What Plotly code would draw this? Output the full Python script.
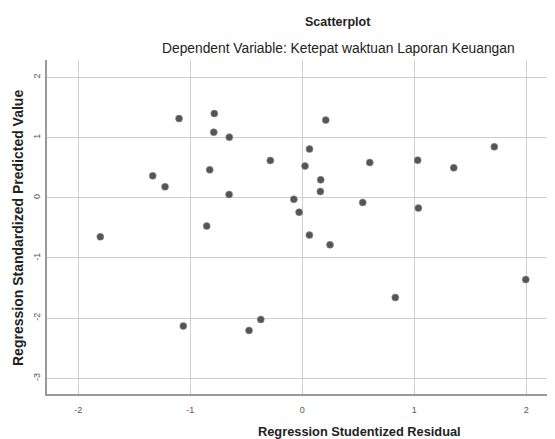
import plotly.graph_objects as go

# Regression Studentized Residual (x) vs Regression Standardized Predicted Value (y)
residual = [-1.804, -1.101, -0.786, -0.791, -0.652, -0.286, -0.827, -1.336, -1.226, -0.654,
            -0.076, -0.029, 0.064, 0.024, -0.854, 0.063, 0.209, 0.164, 0.161, 0.602,
            0.539, 1.030, 1.036, 1.352, 1.714, 0.247, 1.995, 0.830, -1.063, -0.476, -0.371]
predicted = [-0.648, 1.317, 1.400, 1.091, 1.008, 0.620, 0.465, 0.365, 0.183, 0.055,
             -0.025, -0.238, 0.811, 0.528, -0.470, -0.620, 1.291, 0.299, 0.105, 0.586,
             -0.078, 0.626, -0.171, 0.498, 0.847, -0.781, -1.359, -1.656, -2.131, -2.204, -2.022]

x_ticks = [-2, -1, 0, 1, 2]
y_ticks = [2, 1, 0, -1, -2, -3]

title = "Scatterplot"
subtitle = "Dependent Variable: Ketepat waktuan Laporan Keuangan"
x_title = "Regression Studentized Residual"
y_title = "Regression Standardized Predicted Value"

FONT = "Liberation Sans, Arial, sans-serif"

fig = go.Figure()
fig.add_trace(go.Scatter(
    x=residual, y=predicted, mode="markers",
    marker=dict(size=7, color="#555555", line=dict(width=0.6, color="#8a8a8a")),
    hoverinfo="x+y", showlegend=False,
))

# page has an 8px body margin; figure drawn at offset (8, 8)
OFF = 8
W, H = 555 - OFF, 439 - OFF
L, R, T, B = 47 - OFF, 0, 60 - OFF, H - (394 - OFF)
pw, ph = W - L - R, H - T - B

def px(xp):
    return (xp - OFF - L) / pw

def py(yp):
    return (H - B - (yp - OFF)) / ph

annotations = [
    dict(text="<b>" + title + "</b>", x=px(338), y=py(22), font=dict(size=12.5, color="#222")),
    dict(text=subtitle, x=px(338), y=py(49), font=dict(size=13.8, color="#222")),
    dict(text="<b>" + x_title + "</b>", x=px(359), y=py(431), font=dict(size=12.8, color="#222")),
    dict(text="<b>" + y_title + "</b>", x=px(18), y=py(228), textangle=-90,
         font=dict(size=14, color="#222")),
]
for a in annotations:
    a.update(xref="paper", yref="paper", showarrow=False, xanchor="center", yanchor="middle")

fig.update_layout(
    width=W, height=H,
    margin=dict(l=L, r=R, t=T, b=B, pad=0),
    paper_bgcolor="white", plot_bgcolor="white",
    font=dict(family=FONT),
    annotations=annotations,
    xaxis=dict(
        range=[-2.28, 2.256], tickvals=x_ticks, ticktext=[str(v) for v in x_ticks],
        showgrid=True, gridcolor="#cfcfcf", gridwidth=1, zeroline=False,
        showline=True, linecolor="#9a9a9a", linewidth=1.5, ticks="",
        tickfont=dict(size=9, color="#555"), ticklabelstandoff=6,
    ),
    yaxis=dict(
        range=[-3.26, 2.29], tickvals=y_ticks, ticktext=[str(v) for v in y_ticks],
        showgrid=True, gridcolor="#cfcfcf", gridwidth=1, zeroline=False,
        showline=True, linecolor="#9a9a9a", linewidth=1.5, ticks="",
        tickfont=dict(size=9, color="#555"), tickangle=-90, ticklabelstandoff=2,
    ),
)

fig.write_html("out.html")
